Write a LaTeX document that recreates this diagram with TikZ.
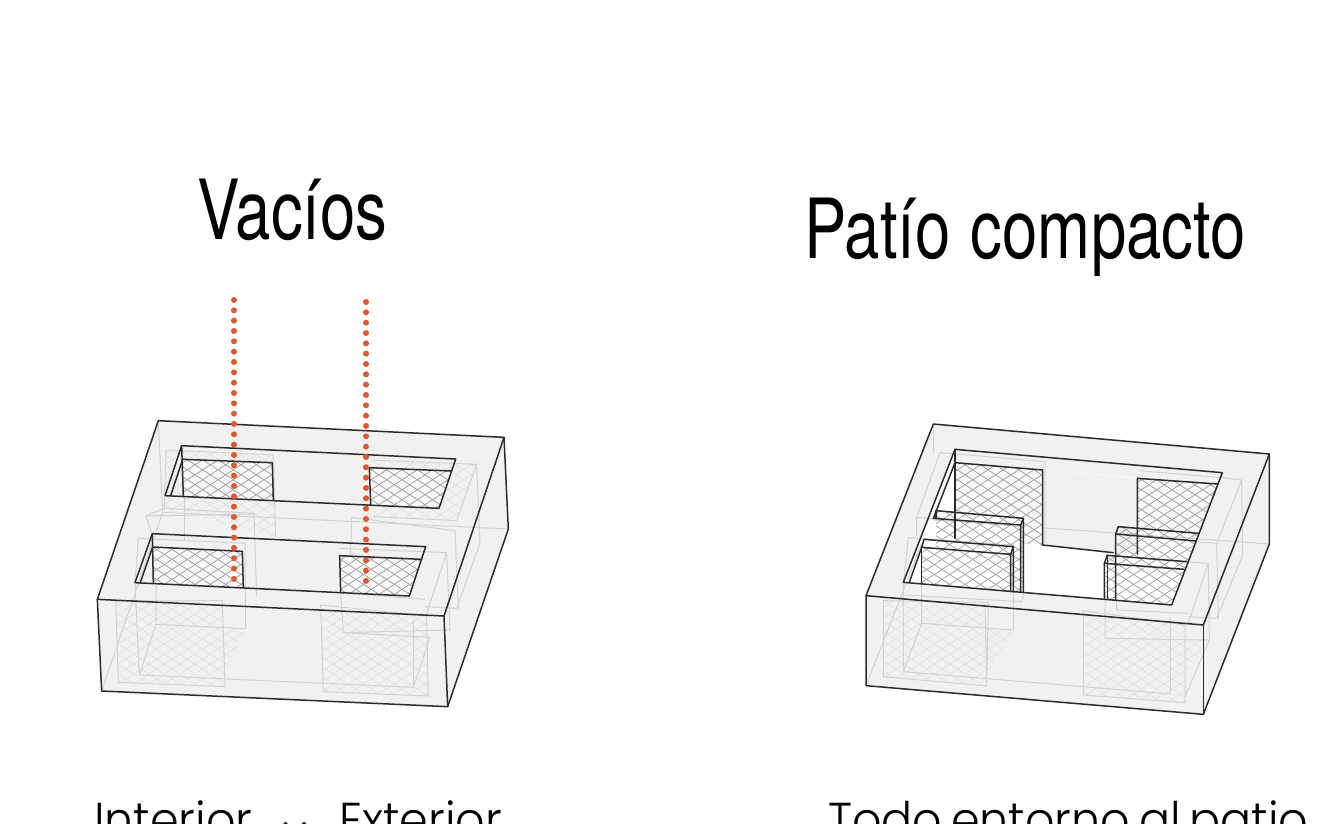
\documentclass[tikz,border=0pt]{standalone}
\usepackage{fontspec}
\setmainfont{TeX Gyre Heros}
\newfontfamily\titlefont[FakeStretch=0.765,WordSpace=1.15]{TeX Gyre Heros}
\newfontfamily\capfont[FakeStretch=0.94,WordSpace=0.7]{Poppins Light}
\newfontfamily\arrowfont{DejaVu Sans}
\definecolor{solidgray}{HTML}{F1F1F1}
\definecolor{ghostline}{HTML}{D2D2D2}
\definecolor{ghosthatch}{HTML}{E3E3E3}
\definecolor{wallhatch}{HTML}{A0A0A0}
\definecolor{wallfill}{HTML}{F8F8F8}
\definecolor{edgeblack}{HTML}{2B2B2B}
\definecolor{dotred}{HTML}{E0562F}
\tikzset{
  zoomL/.style={xshift=80pt,yshift=-400pt,x=0.33333pt,y=-0.33333pt},
  zoomR/.style={xshift=850pt,yshift=-410pt,x=0.33333pt,y=-0.33333pt},
  edgeline/.style={draw=edgeblack,line width=1.5pt,line join=round,line cap=round},
  ghost/.style={draw=ghostline,line width=1pt,line join=round},
  dotline/.style={draw=dotred,line width=6pt,line cap=round,dash pattern=on 0pt off 10.33pt},
  titletext/.style={anchor=base west,inner sep=0pt,font=\titlefont\fontsize{83}{90}\selectfont},
  captext/.style={anchor=base west,inner sep=0pt,font=\capfont\fontsize{49}{56}\selectfont}
}
\newcommand{\hatchpoly}[3]{%
  \begin{scope}
    \clip #1;
    \path[fill=#3] #1;
    \foreach \i in {-36,...,32} \draw[#2,line width=0.75pt] (46*\i,0) -- ++(1500,975);
    \foreach \i in {0,...,66} \draw[#2,line width=0.75pt] (46*\i,0) -- ++(-1500,975);
  \end{scope}}
\begin{document}
\begin{tikzpicture}[x=1pt,y=-1pt]
\clip (0,0) rectangle (1325,823);
\fill[white] (0,0) rectangle (1325,823);

% ---------- left block
\begin{scope}[zoomL]
  \fill[solidgray] (235,62) -- (1272,112) -- (1285,387) -- (1103,920) -- (65,873) -- (52,598) -- cycle;
  % ghost walls
  \hatchpoly{(107,603) -- (427,617) -- (435,860) -- (115,847) -- cycle}{ghosthatch}{solidgray}
  \hatchpoly{(722,632) -- (1040,648) -- (1045,888) -- (730,875) -- cycle}{ghosthatch}{solidgray}
  \hatchpoly{(228,673) -- (497,686) -- (430,838) -- (178,825) -- cycle}{ghosthatch}{solidgray}
  \hatchpoly{(790,698) -- (1050,712) -- (1000,862) -- (735,850) -- cycle}{ghosthatch}{solidgray}
  \hatchpoly{(258,150) -- (580,165) -- (587,410) -- (250,325) -- cycle}{ghosthatch}{solidgray}
  \hatchpoly{(875,180) -- (1190,193) -- (1130,360) -- (880,350) -- cycle}{ghosthatch}{solidgray}
  \draw[ghost] (235,62) -- (248,337) -- (1285,387);
  \draw[ghost] (248,337) -- (65,873);
  \draw[ghost] (258,150) -- (580,165) -- (587,410);
  \draw[ghost] (258,150) -- (253,325) -- (522,340) -- (530,590);
  \draw[ghost] (197,348) -- (522,342);
  \draw[ghost] (197,348) -- (253,325);
  \draw[ghost] (197,348) -- (215,400);
  \draw[ghost] (314,180) -- (314,420);
  \draw[ghost] (175,415) -- (495,430) -- (497,686) -- (228,673) -- (228,440);
  \draw[ghost] (175,415) -- (165,550) -- (178,825) -- (1000,862);
  \draw[ghost] (228,673) -- (178,825);
  \draw[ghost] (107,603) -- (427,602) -- (435,860) -- (115,847) -- cycle;
  \draw[ghost] (722,615) -- (1040,648) -- (1045,888) -- (730,875) -- cycle;
  \draw[ghost] (875,180) -- (1190,193) -- (1200,430) -- (1130,625) -- (1035,620);
  \draw[ghost] (1190,193) -- (1130,362);
  \draw[ghost] (1130,362) -- (880,350);
  \draw[ghost] (815,352) -- (808,580) -- (1035,598);
  \draw[ghost] (815,352) -- (1125,392) -- (1135,625);
  \draw[ghost] (780,445) -- (1100,458) -- (1110,690) -- (790,698) -- (782,577);
  \draw[ghost] (1100,458) -- (1040,640);
  \draw[ghost] (790,698) -- (1050,712) -- (1000,862);
  \draw[ghost] (1000,660) -- (1000,862);
  % visible walls
  \hatchpoly{(308,178) -- (577,188) -- (580,300) -- (310,288) -- cycle}{wallhatch}{wallfill}
  \hatchpoly{(868,203) -- (1115,213) -- (1077,325) -- (872,315) -- cycle}{wallhatch}{wallfill}
  \hatchpoly{(218,441) -- (487,454) -- (490,563) -- (220,550) -- cycle}{wallhatch}{wallfill}
  \hatchpoly{(779,467) -- (1025,478) -- (988,588) -- (782,577) -- cycle}{wallhatch}{wallfill}
  % crisp edges
  \draw[edgeline] (235,62) -- (1272,112) -- (1092,648) -- (52,598) -- cycle;
  \draw[edgeline] (52,598) -- (65,873) -- (1103,920) -- (1285,387) -- (1272,112);
  \draw[edgeline] (1092,648) -- (1103,920);
  \draw[edgeline] (305,137) -- (1127,177) -- (1077,325) -- (255,287) -- cycle;
  \draw[edgeline] (305,137) -- (310,288);
  \draw[edgeline] (272,287) -- (308,178) -- (577,188) -- (580,300);
  \draw[edgeline] (1115,213) -- (868,203) -- (872,315);
  \draw[edgeline] (217,401) -- (1037,440) -- (988,588) -- (165,548) -- cycle;
  \draw[edgeline] (217,401) -- (220,550);
  \draw[edgeline] (180,550) -- (218,441) -- (487,454) -- (490,563);
  \draw[edgeline] (1025,478) -- (779,467) -- (782,577);
\end{scope}

% ---------- right block
\begin{scope}[zoomR]
  \fill[solidgray] (250,42) -- (1258,132) -- (1258,402) -- (1060,913) -- (48,827) -- (48,557) -- cycle;
  % courtyard
  \fill[white] (315,118) -- (1117,188) -- (965,585) -- (160,517) -- cycle;
  \fill[solidgray] (315,118) -- (1117,188) -- (1103,222) -- (315,158) -- cycle;
  \fill[solidgray] (578,180) -- (862,205) -- (862,432) -- (790,428) -- (578,405) -- cycle;
  % ghost walls
  \hatchpoly{(100,572) -- (412,590) -- (410,828) -- (100,800) -- cycle}{ghosthatch}{solidgray}
  \hatchpoly{(215,640) -- (490,660) -- (410,800) -- (160,785) -- cycle}{ghosthatch}{solidgray}
  \hatchpoly{(700,610) -- (1005,645) -- (1005,878) -- (700,855) -- cycle}{ghosthatch}{solidgray}
  \hatchpoly{(765,685) -- (1075,690) -- (962,852) -- (700,830) -- cycle}{ghosthatch}{solidgray}
  \draw[ghost] (250,42) -- (250,130);
  \draw[ghost] (250,330) -- (1258,402);
  \draw[ghost] (48,827) -- (215,400);
  \draw[ghost] (270,128) -- (585,155) -- (585,400);
  \draw[ghost] (270,128) -- (200,322) -- (200,378);
  \draw[ghost] (200,322) -- (520,345);
  \draw[ghost] (175,383) -- (490,405) -- (490,660) -- (215,640) -- (215,412);
  \draw[ghost] (175,383) -- (160,520) -- (160,785) -- (962,852);
  \draw[ghost] (215,640) -- (160,785);
  \draw[ghost] (160,517) -- (160,555) -- (515,575) -- (522,545);
  \draw[ghost] (100,572) -- (415,577) -- (410,828) -- (100,800) -- cycle;
  \draw[ghost] (405,595) -- (410,800);
  \draw[ghost] (700,602) -- (1005,645) -- (1005,878) -- (700,855) -- cycle;
  \draw[ghost] (962,625) -- (962,852);
  \draw[ghost] (868,182) -- (1115,203) -- (1175,210) -- (1178,435) -- (1100,625) -- (1015,620);
  \draw[ghost] (1175,210) -- (1100,400) -- (1105,627);
  \draw[ghost] (1100,400) -- (1040,395);
  \draw[ghost] (768,436) -- (1075,460) -- (1078,690) -- (765,685) -- (765,570);
  \draw[ghost] (1075,460) -- (1015,640);
  \draw[ghost] (1078,690) -- (1005,860);
  \draw[ghost] (800,570) -- (800,600) -- (1015,610);
  % visible walls
  \hatchpoly{(315,158) -- (578,180) -- (578,405) -- (520,400) -- (520,325) -- (315,305) -- cycle}{wallhatch}{wallfill}
  \hatchpoly{(862,205) -- (1103,222) -- (1045,370) -- (862,356) -- cycle}{wallhatch}{wallfill}
  \hatchpoly{(258,302) -- (520,325) -- (522,545) -- (482,545) -- (482,433) -- (258,412) -- cycle}{wallhatch}{none}
  \hatchpoly{(215,412) -- (482,433) -- (482,545) -- (215,520) -- cycle}{wallhatch}{none}
  \hatchpoly{(805,350) -- (1045,370) -- (1010,455) -- (772,436) -- (797,436) -- cycle}{wallhatch}{none}
  \hatchpoly{(763,460) -- (1003,478) -- (965,585) -- (763,568) -- cycle}{wallhatch}{none}
  \hatchpoly{(772,436) -- (1010,455) -- (1003,478) -- (763,460) -- cycle}{wallhatch}{none}
  % crisp edges
  \draw[edgeline] (250,42) -- (1258,132) -- (1060,645) -- (48,557) -- cycle;
  \draw[edgeline] (48,557) -- (48,827) -- (1060,913) -- (1258,402) -- (1258,132);
  \draw[edgeline] (1060,645) -- (1060,913);
  \draw[edgeline] (315,118) -- (1117,188) -- (965,585) -- (160,517) -- cycle;
  \draw[edgeline] (315,118) -- (315,385);
  \draw[edgeline] (1103,222) -- (862,205) -- (862,432);
  \draw[edgeline] (315,158) -- (578,180) -- (578,405) -- (790,428);
  \draw[edgeline] (315,158) -- (250,325);
  \draw[edgeline] (178,517) -- (215,412);
  \draw[edgeline] (250,325) -- (512,345) -- (512,545);
  \draw[edgeline] (258,302) -- (520,325) -- (520,547);
  \draw[edgeline] (512,345) -- (520,325);
  \draw[edgeline] (258,302) -- (258,325);
  \draw[edgeline] (222,388) -- (490,410) -- (490,545);
  \draw[edgeline] (215,412) -- (482,433) -- (482,545);
  \draw[edgeline] (215,412) -- (222,388);
  \draw[edgeline] (482,433) -- (490,410);
  \draw[edgeline] (215,412) -- (215,520);
  \draw[edgeline] (805,350) -- (1045,370);
  \draw[edgeline] (797,372) -- (1037,393);
  \draw[edgeline] (805,350) -- (797,372) -- (797,570);
  \draw[edgeline] (772,436) -- (1010,455);
  \draw[edgeline] (763,460) -- (1003,478);
  \draw[edgeline] (772,436) -- (763,460) -- (763,568);
  \draw[edgeline] (772,436) -- (772,568);
\end{scope}

% ---------- red dotted lines
\coordinate (lefttop) at (234,300);
\coordinate (leftend) at (234,582);
\coordinate (righttop) at (366,302);
\coordinate (rightend) at (366,582);
\draw[dotline] (lefttop) -- (leftend);
\draw[dotline] (righttop) -- (rightend);

% ---------- texts
\node[titletext] (vacios) at (197,239) {Vacíos};
\node[titletext] (patio) at (804,258) {Patío compacto};
\node[captext] (interior) at (94,837) {Interior};
\node[anchor=base,inner sep=0pt,font=\arrowfont\fontsize{52}{56}\selectfont] (arrow) at (295,849) {↔};
\node[captext] (exterior) at (339,837) {Exterior};
\node[captext] (todo) at (828,837) {Todo entorno al patio};
\end{tikzpicture}
\end{document}
